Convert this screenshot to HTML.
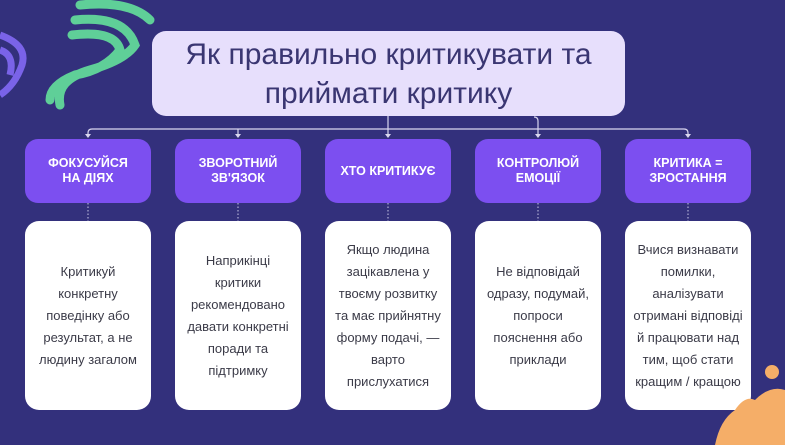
<!DOCTYPE html>
<html><head><meta charset="utf-8"><style>
body{margin:0;width:785px;height:445px;overflow:hidden;background:#33307c;font-family:"Liberation Sans","DejaVu Sans",sans-serif;position:relative}
.t{position:absolute;left:152px;top:31px;width:473px;height:85px;background:#e7dffc;border-radius:14px;color:#3a3672;font-size:30px;line-height:39px;text-align:center;display:flex;align-items:center;justify-content:center}
.p{position:absolute;top:139px;width:126px;height:64px;background:#7c4ff0;border-radius:13px;color:#fff;font-weight:bold;font-size:12.5px;line-height:15px;text-align:center;display:flex;align-items:center;justify-content:center}
.w{position:absolute;top:221px;width:126px;height:189px;background:#fff;border-radius:14px;color:#3b3b48;font-size:13px;line-height:22px;text-align:center;display:flex;align-items:center;justify-content:center;box-sizing:border-box;padding:0 11px}
</style></head><body>
<svg width="785" height="445" style="position:absolute;left:0;top:0">
<g fill="none" stroke="#d9d6ef" stroke-width="1.2">
<path d="M88 136 V133 Q88 129 92 129 H684 Q688 129 688 133 V136"/>
<path d="M238 129 V136 M388 116 V136 M538 136 V121 Q538 117 534 117"/>
</g>
<g fill="#d9d6ef">
<path d="M85 134 h6 l-3 4z M235 134 h6 l-3 4z M385 134 h6 l-3 4z M535 134 h6 l-3 4z M685 134 h6 l-3 4z"/>
</g>
<g stroke="#c9c6e6" stroke-width="1" stroke-dasharray="1.5 2">
<path d="M88 203V221 M238 203V221 M388 203V221 M538 203V221 M688 203V221"/>
</g>
<g fill="none" stroke="#5fcf98" stroke-width="9" stroke-linecap="round">
<path d="M80 5 Q130 0 150 20 M75 20 Q125 15 135 45 Q125 60 90 70 Q55 80 60 105 M72 35 Q115 30 120 50 Q105 70 75 75 Q50 85 50 100"/>
</g>
<g fill="none" stroke="#7a63e8" stroke-width="7"><path d="M0 35 Q28 45 22 65 Q15 85 0 95 M0 50 Q15 55 10 75"/></g>
</svg>
<div class="t">Як правильно критикувати та<br>приймати критику</div>
<div class="p" style="left:25px">ФОКУСУЙСЯ<br>НА ДІЯХ</div>
<div class="p" style="left:175px">ЗВОРОТНИЙ<br>ЗВ'ЯЗОК</div>
<div class="p" style="left:325px">ХТО КРИТИКУЄ</div>
<div class="p" style="left:475px">КОНТРОЛЮЙ<br>ЕМОЦІЇ</div>
<div class="p" style="left:625px">КРИТИКА =<br>ЗРОСТАННЯ</div>
<div class="w" style="left:25px">Критикуй конкретну поведінку або результат, а не людину загалом</div>
<div class="w" style="left:175px">Наприкінці критики рекомендовано давати конкретні поради та підтримку</div>
<div class="w" style="left:325px;padding:0 5px">Якщо людина зацікавлена у твоєму розвитку<br>та має прийнятну<br>форму подачі, — варто прислухатися</div>
<div class="w" style="left:475px">Не відповідай одразу, подумай, попроси пояснення або приклади</div>
<div class="w" style="left:625px;padding:0 4px">Вчися визнавати помилки, аналізувати отримані відповіді й працювати над тим, щоб стати кращим / кращою</div>
<svg width="785" height="445" style="position:absolute;left:0;top:0;pointer-events:none"><g fill="#f5ae68"><path d="M715 445 Q720 420 735 410 Q745 395 755 400 Q770 385 785 390 L785 445z"/><circle cx="772" cy="372" r="7"/></g></svg>
</body></html>
